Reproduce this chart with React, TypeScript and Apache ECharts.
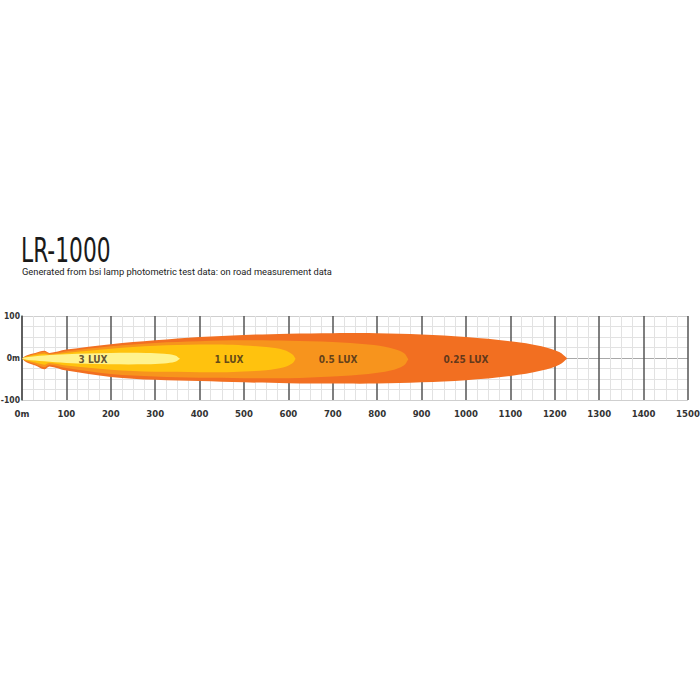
import React, { useEffect, useRef } from "react";
import * as echarts from "echarts";

// Beam contours: [distance (m), upper edge (m), lower edge (m)]
const beam025 = [
  [2, 0, -3], [10, 6, -10], [30, 12, -18], [50, 17, -27], [62, 12, -20], [100, 20, -30],
  [200, 33, -45], [300, 42, -52], [400, 50, -55], [500, 55, -58], [600, 58, -60],
  [700, 59, -61], [800, 59, -61], [900, 56, -58], [1000, 50, -53], [1100, 40, -43],
  [1170, 28, -30], [1210, 14, -16], [1228, -1, -1],
];
const beam05 = [
  [2, 0, -3], [10, 4, -8], [30, 10, -15], [50, 14, -22], [62, 10, -16], [100, 16, -24],
  [200, 28, -38], [300, 36, -44], [400, 40, -47], [500, 42, -48], [600, 41, -48],
  [700, 38, -44], [780, 32, -38], [830, 24, -30], [860, 12, -18], [870, -3, -3],
];
const beam1 = [
  [2, 0, -3], [10, 3, -6], [30, 7, -11], [50, 10, -16], [62, 8, -12], [100, 12, -18],
  [200, 22, -28], [300, 29, -33], [400, 32, -34], [450, 32, -34], [500, 30, -32],
  [550, 26, -29], [590, 19, -22], [610, 8, -12], [616, -2, -2],
];
const beam3 = [
  [2, 0, -3], [10, 2, -4], [50, 6, -8], [100, 9, -12], [200, 12, -15], [280, 12, -15],
  [320, 10, -13], [345, 6, -9], [356, -2, -2],
];

const levelNames = ["0.25 LUX", "0.5 LUX", "1 LUX", "3 LUX"];
const levelColors = ["#F26F21", "#F7941D", "#FFC20E", "#FFF38F"];
const levelShapes = [beam025, beam05, beam1, beam3];

const labelNames = ["3 LUX", "1 LUX", "0.5 LUX", "0.25 LUX"];
const labelX = [160, 466, 712, 1000];
const labelY = [-3, -3, -3, -3];

const xMin = 0;
const xMax = 1500;
const yMin = -100;
const yMax = 100;

const TITLE = "LR-1000";
const SUBTITLE = "Generated from bsi lamp photometric test data: on road measurement data";

const NARROW = "'DejaVu Sans Condensed', 'Liberation Sans Narrow', Arial, sans-serif";

export default function App() {
  const ref = useRef<HTMLDivElement>(null);

  useEffect(() => {
    if (!ref.current) return;
    const chart = echarts.init(ref.current, undefined, { renderer: "svg" });

    const beamSeries = levelShapes.map((shape, i) => ({
      type: "custom",
      name: levelNames[i],
      coordinateSystem: "cartesian2d",
      data: [[0, 0]],
      z: 2 + i,
      silent: true,
      renderItem: (params: any, api: any) => {
        const upper = shape.map((p) => api.coord([p[0], p[1]]));
        const lower = shape
          .slice()
          .reverse()
          .map((p) => api.coord([p[0], p[2]]));
        const points = upper.concat(lower);
        return {
          type: "polygon",
          shape: { points, smooth: 0.35 },
          style: { fill: levelColors[i], stroke: null },
        };
      },
    }));

    const option: any = {
      animation: false,
      backgroundColor: "#ffffff",
      graphic: [
        {
          type: "text",
          x: 21,
          y: 234,
          scaleX: 0.66,
          style: {
            text: TITLE,
            fontSize: 33,
            fontFamily: "'DejaVu Sans', sans-serif",
            fontWeight: "normal",
            fill: "#1a1a1a",
            textVerticalAlign: "top",
          },
        },
        {
          type: "text",
          x: 22,
          y: 267,
          style: {
            text: SUBTITLE,
            fontSize: 9.3,
            fontFamily: "Roboto, Arial, sans-serif",
            fill: "#222",
            textVerticalAlign: "top",
          },
        },
      ],
      grid: {
        left: 22,
        right: 12,
        top: 316,
        bottom: 300,
        containLabel: false,
        outerBoundsMode: "none",
      },
      xAxis: {
        type: "value",
        min: xMin,
        max: xMax,
        interval: 100,
        axisLine: { show: false },
        axisTick: { show: false },
        axisLabel: {
          margin: 8,
          fontFamily: NARROW,
          fontWeight: "bold",
          fontSize: 9.5,
          color: "#333",
          formatter: (v: number) => (v === 0 ? "0m" : String(v)),
        },
        splitLine: { show: true, lineStyle: { color: "#555", width: 1.5 } },
        minorTick: { show: false, splitNumber: 4 },
        minorSplitLine: { show: true, lineStyle: { color: "#e2e2e2", width: 1 } },
      },
      yAxis: {
        type: "value",
        min: yMin,
        max: yMax,
        interval: 100,
        axisLine: { show: true, lineStyle: { color: "#555", width: 1.5 } },
        axisTick: { show: false },
        axisLabel: {
          margin: 2,
          fontFamily: NARROW,
          fontWeight: "bold",
          fontSize: 8.5,
          color: "#333",
          formatter: (v: number) => (v === 0 ? "0m" : String(v)),
        },
        splitLine: { show: true, lineStyle: { color: ["#cfcfcf", "#a8a8a8", "#cfcfcf"], width: 1 } },
        minorTick: { show: false, splitNumber: 4 },
        minorSplitLine: { show: true, lineStyle: { color: "#e2e2e2", width: 1 } },
      },
      series: [
        ...beamSeries,
        {
          type: "scatter",
          symbolSize: 0,
          z: 10,
          silent: true,
          data: labelNames.map((n, i) => ({ value: [labelX[i], labelY[i]], name: n })),
          label: {
            show: true,
            position: "inside",
            formatter: (p: any) => p.name,
            fontFamily: NARROW,
            fontWeight: "bold",
            fontSize: 10,
            color: "#3b2a1a",
          },
        },
      ],
    };

    chart.setOption(option);
    return () => chart.dispose();
  }, []);

  return (
    <div
      ref={ref}
      style={{ position: "fixed", left: 0, top: 0, width: 700, height: 700, background: "#fff" }}
    />
  );
}
